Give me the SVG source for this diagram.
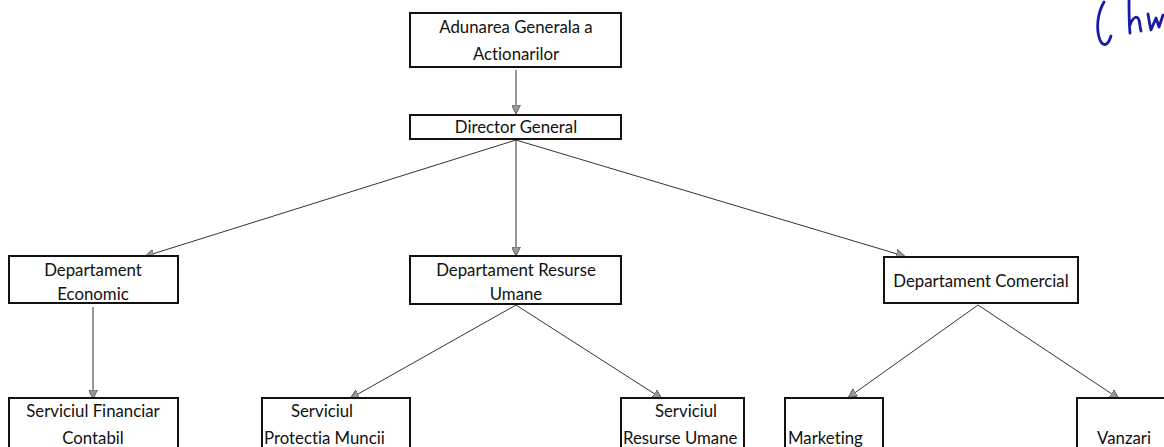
<svg xmlns="http://www.w3.org/2000/svg" width="1164" height="447" viewBox="0 0 1164 447">
<style>
.box{fill:#fff;stroke:#111;stroke-width:2}
text{font-family:Lato,"Open Sans","Liberation Sans",sans-serif;font-size:16.8px;fill:#111;font-variant-ligatures:none}
.c{text-anchor:middle}
.ln{stroke:#333;stroke-width:1;fill:none;marker-end:url(#ah)}
</style>
<defs>
<marker id="ah" viewBox="0 0 10 10" refX="9" refY="5" markerWidth="9" markerHeight="9" markerUnits="userSpaceOnUse" orient="auto">
<path d="M0,0 L10,5 L0,10 z" fill="#999" stroke="#555" stroke-width="1"/>
</marker>
</defs>
<rect width="1164" height="447" fill="#fff"/>
<g id="connectors">
<line class="ln" x1="516" y1="70" x2="516" y2="113"/>
<line class="ln" x1="516" y1="140" x2="146" y2="256"/>
<line class="ln" x1="516" y1="140" x2="516" y2="255"/>
<line class="ln" x1="516" y1="140" x2="904" y2="256"/>
<line class="ln" x1="93" y1="307" x2="93" y2="398"/>
<line class="ln" x1="516" y1="305" x2="351" y2="398"/>
<line class="ln" x1="516" y1="305" x2="661" y2="398"/>
<line class="ln" x1="978" y1="305" x2="849" y2="397"/>
<line class="ln" x1="978" y1="305" x2="1118" y2="398"/>
</g>
<g id="adunarea">
<rect class="box" x="410" y="13" width="211" height="54"/>
<text class="c" x="516" y="33">Adunarea Generala a</text>
<text class="c" x="516" y="60">Actionarilor</text>
</g>
<g id="director">
<rect class="box" x="410" y="115" width="211" height="24"/>
<text class="c" x="516" y="133">Director General</text>
</g>
<g id="dep-economic">
<rect class="box" x="9" y="256" width="169" height="47"/>
<text class="c" x="93" y="276">Departament</text>
<text class="c" x="93" y="300">Economic</text>
</g>
<g id="dep-ru">
<rect class="box" x="410" y="256" width="211" height="48"/>
<text class="c" x="516" y="276">Departament Resurse</text>
<text class="c" x="516" y="300">Umane</text>
</g>
<g id="dep-comercial">
<rect class="box" x="884" y="257" width="194" height="46"/>
<text class="c" x="981" y="287">Departament Comercial</text>
</g>
<g id="serv-financiar">
<rect class="box" x="9" y="398" width="169" height="60"/>
<text class="c" x="93" y="417">Serviciul Financiar</text>
<text class="c" x="93" y="444">Contabil</text>
</g>
<g id="serv-pm">
<rect class="box" x="262" y="398" width="148" height="60"/>
<text class="c" x="322" y="417">Serviciul</text>
<text x="264" y="444">Protectia Muncii</text>
</g>
<g id="serv-ru">
<rect class="box" x="621" y="398" width="123" height="60"/>
<text class="c" x="686" y="417">Serviciul</text>
<text x="623" y="444">Resurse Umane</text>
</g>
<g id="marketing">
<rect class="box" x="785" y="398" width="98" height="60"/>
<text x="788" y="444">Marketing</text>
</g>
<g id="vanzari">
<rect class="box" x="1077" y="398" width="100" height="60"/>
<text class="c" x="1124" y="444">Vanzari</text>
</g>
<g id="signature" fill="none" stroke="#1a1aa8" stroke-width="2.8" stroke-linecap="round" stroke-linejoin="round">
<path d="M1104,2 C1097,14 1096,30 1100,40 C1103,47 1108,46 1111,36"/>
<path d="M1129,0 C1129,12 1129,22 1130,33 M1130,25 C1133,17 1137,15 1139,20 C1140,24 1140,28 1141,31 M1148,14 C1149,20 1150,26 1151,30 L1156,18 L1159,27 L1163,15"/>
</g>
</svg>
